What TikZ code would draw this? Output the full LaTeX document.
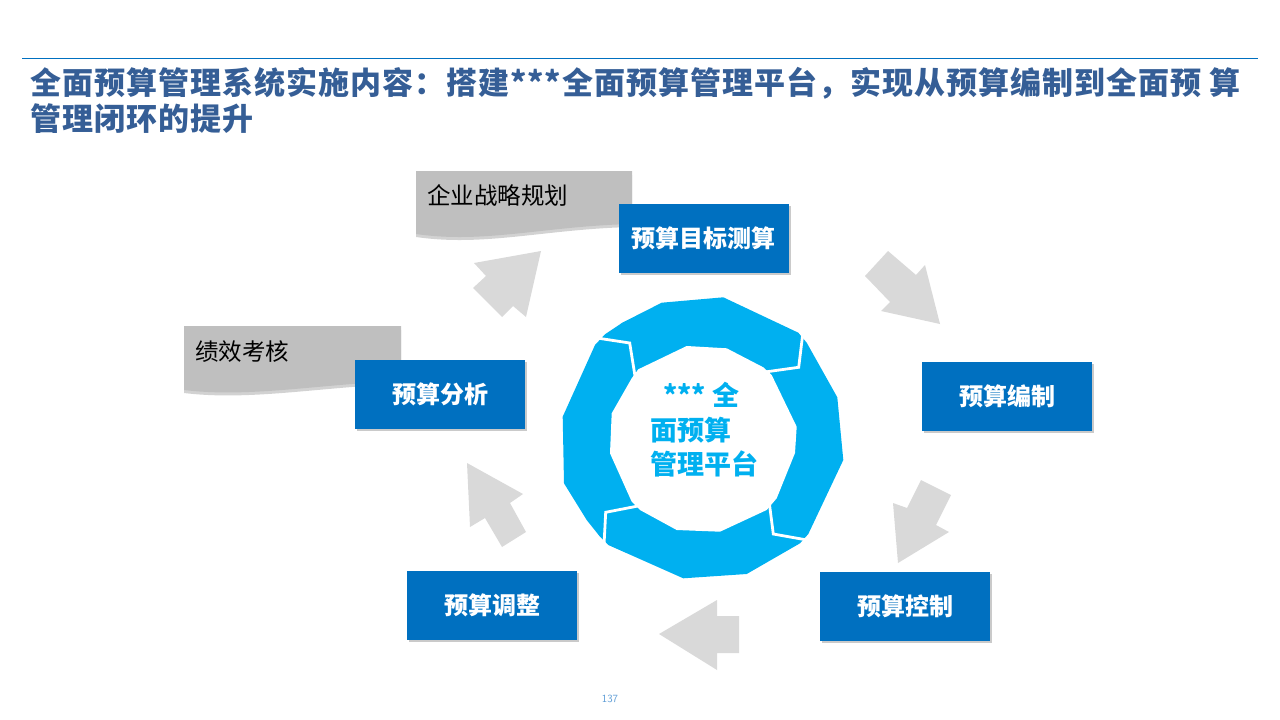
\documentclass[tikz,border=0pt]{standalone}
\usepackage{fontspec}
\newfontfamily\cjk{Noto Sans CJK SC}
\newfontfamily\cjktitle[LetterSpace=3.2]{Noto Sans CJK SC}
\usetikzlibrary{shadows}
\definecolor{titleblue}{RGB}{53,94,150}
\definecolor{boxblue}{RGB}{0,112,192}
\definecolor{ringcyan}{RGB}{0,176,240}
\definecolor{taggray}{RGB}{191,191,191}
\definecolor{tagshade}{RGB}{165,165,165}
\definecolor{arrowgray}{RGB}{217,217,217}
\definecolor{lineblue}{RGB}{0,112,192}
\definecolor{pageblue}{RGB}{91,155,213}
\begin{document}
\begin{tikzpicture}[x=1pt,y=-1pt,
  bluebox/.style={fill=boxblue, minimum width=170pt, minimum height=69pt, inner sep=0pt,
    text=white, font=\cjk\bfseries\fontsize{24}{28}\selectfont,
    drop shadow={shadow xshift=2pt,shadow yshift=-2pt,opacity=0.35,fill=black!60}},
  tagtext/.style={anchor=west, inner sep=0pt, font=\cjk\fontsize{23.5}{27}\selectfont, text=black},
  tagshape/.style={fill=taggray},
  tagshadow/.style={fill=tagshade, opacity=0.5},
  blockarrow/.style={fill=arrowgray},
  ringtext/.style={anchor=base west, inner sep=0pt, text=ringcyan, font=\cjk\bfseries\fontsize{27}{30}\selectfont},
  titletext/.style={anchor=base west, inner sep=0pt, text=titleblue, font=\cjktitle\bfseries\fontsize{31}{36}\selectfont},
  gap/.style={draw=white, line width=2.8pt, line join=miter}
]
\useasboundingbox (0,0) rectangle (1280,720);

% top rule and title
\coordinate (ruleL) at (22,58);
\coordinate (ruleR) at (1258,58);
\draw[lineblue, line width=1pt] (ruleL) -- (ruleR);
\node[titletext] (title1) at (30,94) {全面预算管理系统实施内容：搭建***全面预算管理平台，实现从预算编制到全面预 算};
\node[titletext] (title2) at (30,130) {管理闭环的提升};

% gray tags
\fill[tagshadow] (416,175) -- (632,175) -- (632,227) .. controls (545,229) and (485,247) .. (416,237) -- cycle;
\fill[tagshape] (416,171) -- (632,171) -- (632,224) .. controls (545,226) and (485,244) .. (416,234) -- cycle;
\node[tagtext] (strategy) at (427,195) {企业战略规划};

\fill[tagshadow] (184,330) -- (401,330) -- (401,384) .. controls (320,387) and (250,401) .. (184,393) -- cycle;
\fill[tagshape] (184,326) -- (401,326) -- (401,381) .. controls (320,384) and (250,398) .. (184,390) -- cycle;
\node[tagtext] (perf) at (195,352) {绩效考核};

% ring
\fill[ringcyan] (661.7,302.7) -- (723.3,297.3) -- (798.3,332.7) -- (806.7,342.7) -- (837.3,397.3)
  -- (843.3,460) -- (808.3,534) -- (800,543.3) -- (746.7,574) -- (683.3,578.3) -- (608.3,545)
  -- (600,536.7) -- (586.7,520) -- (564,483.3) -- (562.7,416.7) -- (595,345) -- (605,334.3)
  -- (622.3,322.7) -- cycle;
\fill[white] (686.7,346) -- (726.7,348.3) -- (763.3,367.3) -- (771.7,375) -- (796.7,426.7)
  -- (795,453) -- (776.7,498.3) -- (766.7,510) -- (720,531.7) -- (676.7,530) -- (640,510)
  -- (631.7,501.7) -- (610,453.3) -- (611.7,413.3) -- (631.7,378.3) -- (638.3,369.3) -- cycle;
\draw[gap] (597,338) -- (629.7,343) -- (635,376);
\draw[gap] (803,332) -- (798.7,367.3) -- (765,372);
\draw[gap] (807,540) -- (773.3,534) -- (769.3,503);
\draw[gap] (604,545) -- (605.7,512.3) -- (638,506);

\node[ringtext] (rt1) at (663,405) {*** 全};
\node[ringtext] (rt2) at (650,440) {面预算};
\node[ringtext] (rt3) at (650,474) {管理平台};

% block arrows
\fill[blockarrow] (541,251) -- (474,263) -- (486,276) -- (473,288) -- (502,317) -- (513,306) -- (526,317) -- cycle;
\fill[blockarrow] (888,251) -- (865,276) -- (890,302) -- (881,311) -- (940,324) -- (925,265) -- (916,275) -- cycle;
\fill[blockarrow] (921,480) -- (951,495) -- (936,525) -- (949,532) -- (898,563) -- (893,503) -- (907,508) -- cycle;
\fill[blockarrow] (659,634) -- (717,600) -- (717,616) -- (739,616) -- (739,653) -- (717,653) -- (717,670) -- cycle;
\fill[blockarrow] (467,463) -- (523,494) -- (510,503) -- (526,532) -- (502,547) -- (485,518) -- (470,527) -- cycle;

% blue boxes
\node[bluebox] (target) at (703.5,238) {预算目标测算};
\node[bluebox] (compile) at (1007,396.5) {预算编制};
\node[bluebox] (control) at (905,606.5) {预算控制};
\node[bluebox] (adjust) at (492,605) {预算调整};
\node[bluebox] (analyze) at (440,394.5) {预算分析};

% page number
\node[inner sep=0pt, text=pageblue, font=\sffamily\fontsize{11}{13}\selectfont] (page) at (610,699) {137};
\end{tikzpicture}
\end{document}
